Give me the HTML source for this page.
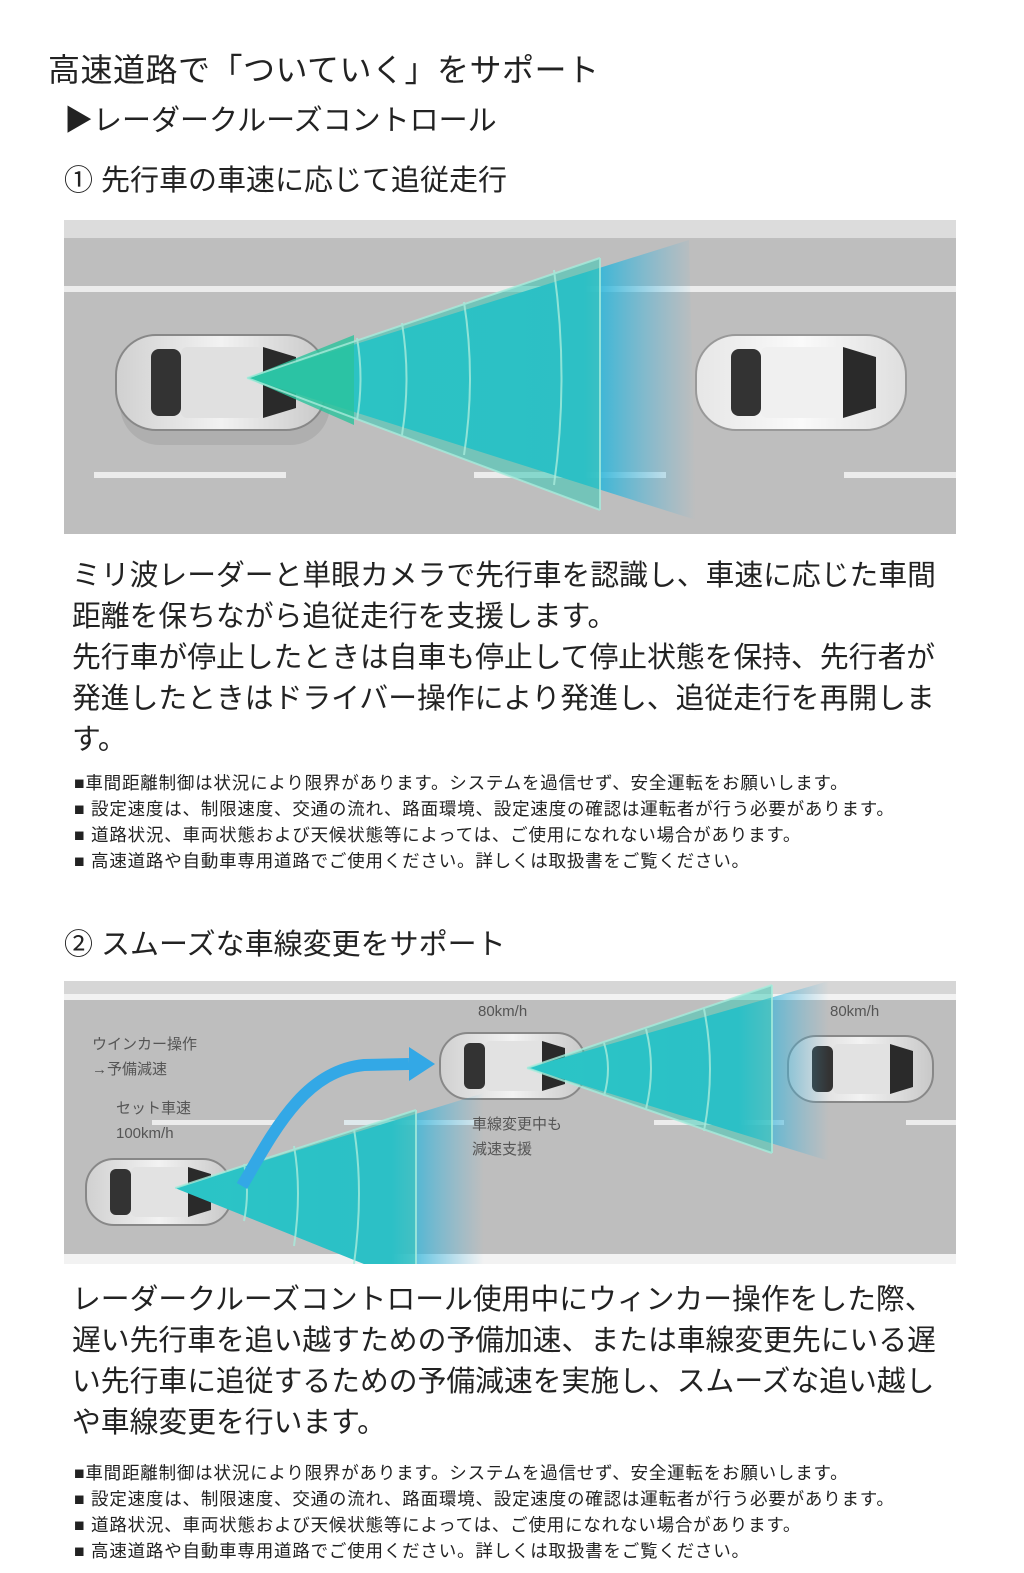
<!DOCTYPE html>
<html><head><meta charset="utf-8">
<style>
body{margin:0;background:#fff;width:1024px;height:1573px;position:relative;overflow:hidden;font-family:"Liberation Sans","Noto Sans CJK JP",sans-serif;color:#222}
.t{position:absolute;white-space:nowrap;line-height:1}
.body{position:absolute;left:72px;width:880px;font-size:28.8px;line-height:41px;color:#222}
.notes{position:absolute;left:74px;font-size:17.5px;letter-spacing:0.8px;line-height:26px;color:#222;white-space:nowrap}
svg{position:absolute;left:64px}
</style></head><body>
<div class="t" style="left:48px;top:54px;font-size:32px;letter-spacing:0.5px">高速道路で「ついていく」をサポート</div>
<div class="t" style="left:64px;top:107px;font-size:29px">▶レーダークルーズコントロール</div>
<div class="t" style="left:64px;top:167px;font-size:29px">① 先行車の車速に応じて追従走行</div>

<svg width="892" height="314" style="top:220px" viewBox="0 0 892 314">
<defs>
<linearGradient id="bl" x1="0" x2="1"><stop offset="0" stop-color="#1fc0d8"/><stop offset="0.75" stop-color="#22b6d9"/><stop offset="1" stop-color="#4fb3e0" stop-opacity="0"/></linearGradient>
<linearGradient id="cb" x1="0" x2="1"><stop offset="0" stop-color="#d0d0d0"/><stop offset="0.5" stop-color="#f2f2f2"/><stop offset="1" stop-color="#c8c8c8"/></linearGradient>
<linearGradient id="cw" x1="0" x2="1"><stop offset="0" stop-color="#e6e6e6"/><stop offset="0.5" stop-color="#fafafa"/><stop offset="1" stop-color="#dedede"/></linearGradient>
<g id="car"><rect x="0" y="0" width="210" height="95" rx="40" fill="url(#cb)" stroke="#888" stroke-width="2"/><rect x="35" y="14" width="30" height="67" rx="8" fill="#333"/><rect x="65" y="12" width="82" height="71" rx="6" fill="#e0e0e0"/><path d="M147 12 L180 22 L180 73 L147 83 Z" fill="#2a2a2a"/></g>
<g id="carw"><rect x="0" y="0" width="210" height="95" rx="40" fill="url(#cw)" stroke="#999" stroke-width="2"/><rect x="35" y="14" width="30" height="67" rx="8" fill="#333"/><rect x="65" y="12" width="82" height="71" rx="6" fill="#f0f0f0"/><path d="M147 12 L180 22 L180 73 L147 83 Z" fill="#2a2a2a"/></g>
</defs>
<rect width="892" height="314" fill="#bebebe"/>
<rect width="892" height="18" fill="#dcdcdc"/>
<rect y="66" width="892" height="6" fill="#ececec"/>
<rect x="30" y="252" width="192" height="6" fill="#ececec"/>
<rect x="410" y="252" width="192" height="6" fill="#ececec"/>
<rect x="780" y="252" width="112" height="6" fill="#ececec"/>
<g opacity="0.95"><rect x="50" y="120" width="210" height="95" rx="40" fill="#999" opacity="0.4" transform="translate(6,10)"/></g>
<use href="#car" x="52" y="115"/>
<use href="#carw" x="632" y="115"/>
<polygon points="183,158 625,20 632,300" fill="url(#bl)"/>
<polygon points="183,158 536,38 536,290" fill="#36c9b4" opacity="0.55"/>
<polygon points="183,158 290,115 290,205" fill="#2cc39c" opacity="0.8"/>
<g fill="none" stroke="#a8ecdc" stroke-width="2" opacity="0.8">
<path d="M293 118 Q300 158 293 200"/><path d="M338 103 Q347 158 338 215"/><path d="M400 82 Q412 158 400 235"/><path d="M490 50 Q505 158 490 265"/>
<path d="M536 38 L536 290"/><path d="M183 158 L536 38 M183 158 L536 290"/></g>
</svg>

<div class="body" style="top:556px">ミリ波レーダーと単眼カメラで先行車を認識し、車速に応じた車間距離を保ちながら追従走行を支援します。<br>先行車が停止したときは自車も停止して停止状態を保持、先行者が発進したときはドライバー操作により発進し、追従走行を再開します。</div>
<div class="notes" style="top:770px">■車間距離制御は状況により限界があります。システムを過信せず、安全運転をお願いします。<br>■ 設定速度は、制限速度、交通の流れ、路面環境、設定速度の確認は運転者が行う必要があります。<br>■ 道路状況、車両状態および天候状態等によっては、ご使用になれない場合があります。<br>■ 高速道路や自動車専用道路でご使用ください。詳しくは取扱書をご覧ください。</div>

<div class="t" style="left:64px;top:931px;font-size:29px">② スムーズな車線変更をサポート</div>

<svg width="892" height="283" style="top:981px" viewBox="0 0 892 283">
<defs>
<linearGradient id="bl2" x1="0" x2="1"><stop offset="0" stop-color="#1fc0d8"/><stop offset="0.7" stop-color="#22b6d9"/><stop offset="1" stop-color="#4fb3e0" stop-opacity="0"/></linearGradient>
<linearGradient id="cb2" x1="0" x2="1"><stop offset="0" stop-color="#d0d0d0"/><stop offset="0.5" stop-color="#f2f2f2"/><stop offset="1" stop-color="#c8c8c8"/></linearGradient>
<g id="c2"><rect x="0" y="0" width="145" height="66" rx="28" fill="url(#cb2)" stroke="#888" stroke-width="2"/><rect x="24" y="10" width="21" height="46" rx="6" fill="#333"/><rect x="45" y="8" width="57" height="50" rx="5" fill="#e2e2e2"/><path d="M102 8 L125 15 L125 51 L102 58 Z" fill="#2a2a2a"/></g>
</defs>
<rect width="892" height="283" fill="#bebebe"/>
<rect width="892" height="13" fill="#d6d6d6"/>
<rect y="13" width="892" height="6" fill="#f2f2f2"/>
<rect y="273" width="892" height="10" fill="#f2f2f2"/>
<rect x="88" y="139" width="130" height="5" fill="#ececec"/>
<rect x="590" y="139" width="130" height="5" fill="#ececec"/>
<rect x="842" y="139" width="50" height="5" fill="#ececec"/>
<rect x="280" y="139" width="130" height="5" fill="#e6f4f8" opacity="0.8"/>
<use href="#c2" x="22" y="178"/>
<use href="#c2" x="376" y="52"/>
<use href="#c2" x="724" y="55"/>
<polygon points="111,207 420,112 420,283 300,283" fill="url(#bl2)"/>
<polygon points="111,207 352,129 352,283 300,283" fill="#36c9b4" opacity="0.5"/>
<polygon points="463,87 765,0 765,180" fill="url(#bl2)"/>
<polygon points="463,87 708,4 708,172" fill="#36c9b4" opacity="0.5"/>
<g fill="none" stroke="#a8ecdc" stroke-width="2" opacity="0.8">
<path d="M111 207 L352 129 M352 129 L352 283 M463 87 L708 4 M463 87 L708 172 M708 4 L708 172"/>
<path d="M540 62 Q548 87 540 115"/><path d="M582 48 Q592 87 582 128"/><path d="M640 28 Q652 87 640 150"/>
<path d="M180 183 Q186 210 180 240"/><path d="M230 165 Q238 210 230 265"/><path d="M290 148 Q300 210 290 283"/>
</g>
<path d="M178 205 C210 150 240 90 300 84 L345 83" fill="none" stroke="#33a8e6" stroke-width="12"/>
<polygon points="345,66 371,83 345,100" fill="#33a8e6"/>
<g font-size="15" fill="#555" font-family="Liberation Sans,Noto Sans CJK JP,sans-serif">
<text x="414" y="35">80km/h</text><text x="766" y="35">80km/h</text>
<text x="28" y="68">ウインカー操作</text><text x="28" y="93">→予備減速</text>
<text x="52" y="132">セット車速</text><text x="52" y="157">100km/h</text>
<text x="408" y="148">車線変更中も</text><text x="408" y="173">減速支援</text>
</g>
</svg>

<div class="body" style="top:1280px">レーダークルーズコントロール使用中にウィンカー操作をした際、遅い先行車を追い越すための予備加速、または車線変更先にいる遅い先行車に追従するための予備減速を実施し、スムーズな追い越しや車線変更を行います。</div>
<div class="notes" style="top:1460px">■車間距離制御は状況により限界があります。システムを過信せず、安全運転をお願いします。<br>■ 設定速度は、制限速度、交通の流れ、路面環境、設定速度の確認は運転者が行う必要があります。<br>■ 道路状況、車両状態および天候状態等によっては、ご使用になれない場合があります。<br>■ 高速道路や自動車専用道路でご使用ください。詳しくは取扱書をご覧ください。</div>
</body></html>
